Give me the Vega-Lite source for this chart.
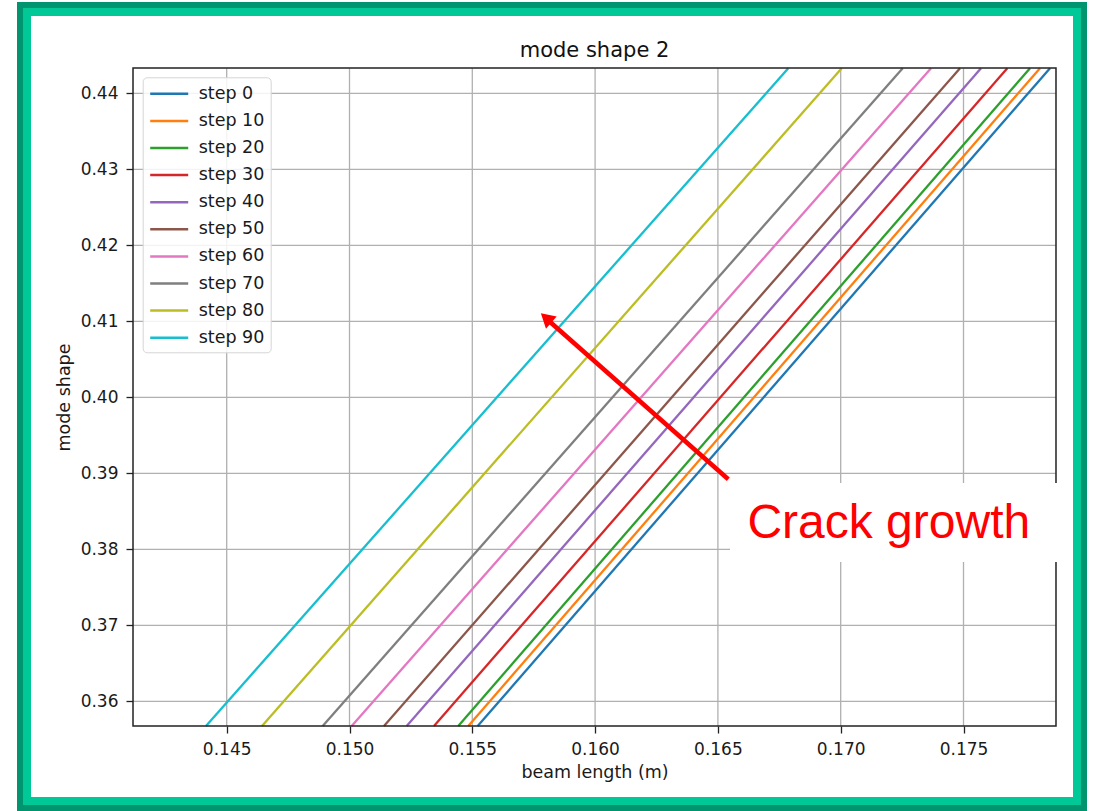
{
  "$schema": "https://vega.github.io/schema/vega-lite/v6.json",
  "width": 1070,
  "height": 809,
  "padding": {"left": 17, "top": 2, "right": 7, "bottom": 0},
  "background": "white",
  "config": {
    "view": {"stroke": null},
    "axis": {"labelFont": "DejaVu Sans", "titleFont": "DejaVu Sans"},
    "legend": {"labelFont": "DejaVu Sans"}
  },
  "datasets": {
    "curves": [
      {"step": "step 0", "x": 0.15522, "y": 0.35675},
      {"step": "step 0", "x": 0.178522, "y": 0.4433},
      {"step": "step 10", "x": 0.154837, "y": 0.35675},
      {"step": "step 10", "x": 0.178115, "y": 0.4433},
      {"step": "step 20", "x": 0.15443, "y": 0.35675},
      {"step": "step 20", "x": 0.177708, "y": 0.4433},
      {"step": "step 30", "x": 0.153441, "y": 0.35675},
      {"step": "step 30", "x": 0.176783, "y": 0.4433},
      {"step": "step 40", "x": 0.152329, "y": 0.35675},
      {"step": "step 40", "x": 0.175713, "y": 0.4433},
      {"step": "step 50", "x": 0.151405, "y": 0.35675},
      {"step": "step 50", "x": 0.174857, "y": 0.4433},
      {"step": "step 60", "x": 0.15009, "y": 0.35675},
      {"step": "step 60", "x": 0.173677, "y": 0.4433},
      {"step": "step 70", "x": 0.148909, "y": 0.35675},
      {"step": "step 70", "x": 0.172524, "y": 0.4433},
      {"step": "step 80", "x": 0.146437, "y": 0.35675},
      {"step": "step 80", "x": 0.170041, "y": 0.4433},
      {"step": "step 90", "x": 0.144157, "y": 0.35675},
      {"step": "step 90", "x": 0.167866, "y": 0.4433}
    ],
    "xgrid": [{"v": 0.145}, {"v": 0.15}, {"v": 0.155}, {"v": 0.16}, {"v": 0.165}, {"v": 0.17}, {"v": 0.175}],
    "ygrid": [{"v": 0.36}, {"v": 0.37}, {"v": 0.38}, {"v": 0.39}, {"v": 0.40}, {"v": 0.41}, {"v": 0.42}, {"v": 0.43}, {"v": 0.44}]
  },
  "layer": [
    {
      "data": {"name": "xgrid"},
      "mark": {"type": "rule", "color": "#b0b0b0", "strokeWidth": 1.3},
      "encoding": {
        "x": {"field": "v", "type": "quantitative", "scale": {"domain": [0.1364617, 0.1800285], "nice": false, "zero": false}},
        "y": {"datum": 0.35675, "type": "quantitative", "scale": {"domain": [0.345566, 0.452013], "nice": false, "zero": false}},
        "y2": {"datum": 0.4433}
      }
    },
    {
      "data": {"name": "ygrid"},
      "mark": {"type": "rule", "color": "#b0b0b0", "strokeWidth": 1.3},
      "encoding": {
        "y": {"field": "v", "type": "quantitative"},
        "x": {"datum": 0.141185, "type": "quantitative"},
        "x2": {"datum": 0.178766}
      }
    },
    {
      "data": {"name": "curves"},
      "mark": {"type": "line", "strokeWidth": 2.3},
      "encoding": {
        "x": {
          "field": "x", "type": "quantitative",
          "axis": {
            "title": "beam length (m)", "orient": "bottom", "values": [0.145, 0.15, 0.155, 0.16, 0.165, 0.17, 0.175], "format": ".3f",
            "offset": -85, "grid": false, "domain": false, "tickSize": 7, "tickWidth": 1.3, "tickColor": "#222222",
            "labelPadding": 8, "labelFontSize": 17, "labelColor": "#1a1a1a", "labelFlush": false, "labelOverlap": false,
            "titleFontSize": 17.5, "titleFontWeight": "normal", "titleColor": "#1a1a1a",
            "titleX": 577.5, "titleY": 51, "titleBaseline": "alphabetic", "titleAlign": "center"
          }
        },
        "y": {
          "field": "y", "type": "quantitative",
          "axis": {
            "title": "mode shape", "orient": "left", "values": [0.36, 0.37, 0.38, 0.39, 0.4, 0.41, 0.42, 0.43, 0.44], "format": ".2f",
            "offset": -116, "grid": false, "domain": false, "tickSize": 7, "tickWidth": 1.3, "tickColor": "#222222",
            "labelPadding": 8, "labelFontSize": 17, "labelColor": "#1a1a1a", "labelFlush": false, "labelOverlap": false,
            "titleFontSize": 17.5, "titleFontWeight": "normal", "titleColor": "#1a1a1a",
            "titleX": -63.5, "titleY": 395, "titleAngle": 270, "titleBaseline": "alphabetic", "titleAlign": "center"
          }
        },
        "color": {
          "field": "step", "type": "nominal",
          "scale": {
            "domain": ["step 0", "step 10", "step 20", "step 30", "step 40", "step 50", "step 60", "step 70", "step 80", "step 90"],
            "range": ["#1f77b4", "#ff7f0e", "#2ca02c", "#d62728", "#9467bd", "#8c564b", "#e377c2", "#7f7f7f", "#bcbd22", "#17becf"]
          },
          "legend": {
            "orient": "none", "legendX": 125.7, "legendY": 75.3, "title": null, "direction": "vertical",
            "symbolType": "M-2.111,0L2.111,0", "symbolSize": 324, "symbolOffset": 10, "symbolStrokeWidth": 2.5,
            "labelFontSize": 17.5, "labelColor": "#1a1a1a", "labelOffset": 19, "rowPadding": 8.1,
            "padding": 6, "fillColor": "rgba(255,255,255,0.85)", "strokeColor": "#d5d5d5", "cornerRadius": 4
          }
        }
      }
    },
    {
      "data": {"values": [{}]},
      "mark": {"type": "rect", "fillOpacity": 0, "stroke": "#222222", "strokeWidth": 1.5},
      "encoding": {
        "x": {"datum": 0.141185, "type": "quantitative"},
        "x2": {"datum": 0.178766},
        "y": {"datum": 0.35675, "type": "quantitative"},
        "y2": {"datum": 0.443329}
      }
    },
    {
      "data": {"values": [{}]},
      "mark": {"type": "rect", "fill": "white", "strokeWidth": 0},
      "encoding": {
        "x": {"datum": 0.165493, "type": "quantitative"},
        "x2": {"datum": 0.178848},
        "y": {"datum": 0.378329, "type": "quantitative"},
        "y2": {"datum": 0.388724}
      }
    },
    {
      "data": {"values": [{"label": "Crack growth"}]},
      "mark": {"type": "text", "font": "Liberation Sans", "fontSize": 48, "color": "#ff0000", "align": "center", "baseline": "alphabetic"},
      "encoding": {
        "x": {"datum": 0.171958, "type": "quantitative"},
        "y": {"datum": 0.381447, "type": "quantitative"},
        "text": {"field": "label"}
      }
    },
    {
      "data": {"values": [{}]},
      "mark": {"type": "rule", "color": "#ff0000", "strokeWidth": 4.5},
      "encoding": {
        "x": {"datum": 0.165423, "type": "quantitative"},
        "y": {"datum": 0.389211, "type": "quantitative"},
        "x2": {"datum": 0.158123},
        "y2": {"datum": 0.410039}
      }
    },
    {
      "data": {"values": [{}]},
      "mark": {"type": "point", "shape": "triangle-up", "filled": true, "color": "#ff0000", "opacity": 1, "size": 262, "angle": 311.5, "strokeWidth": 0},
      "encoding": {
        "x": {"datum": 0.158005, "type": "quantitative"},
        "y": {"datum": 0.410434, "type": "quantitative"}
      }
    },
    {
      "data": {"values": [{"label": "mode shape 2"}]},
      "mark": {"type": "text", "font": "DejaVu Sans", "fontSize": 21, "color": "#111111", "align": "center", "baseline": "alphabetic"},
      "encoding": {
        "x": {"datum": 0.159976, "type": "quantitative"},
        "y": {"datum": 0.444816, "type": "quantitative"},
        "text": {"field": "label"}
      }
    },
    {
      "data": {"values": [{}]},
      "mark": {"type": "rect", "clip": true, "fillOpacity": 0, "stroke": "#00c896", "strokeWidth": 28},
      "encoding": {}
    },
    {
      "data": {"values": [{}]},
      "mark": {"type": "rect", "clip": true, "fillOpacity": 0, "stroke": "#00956e", "strokeWidth": 12},
      "encoding": {}
    }
  ]
}
